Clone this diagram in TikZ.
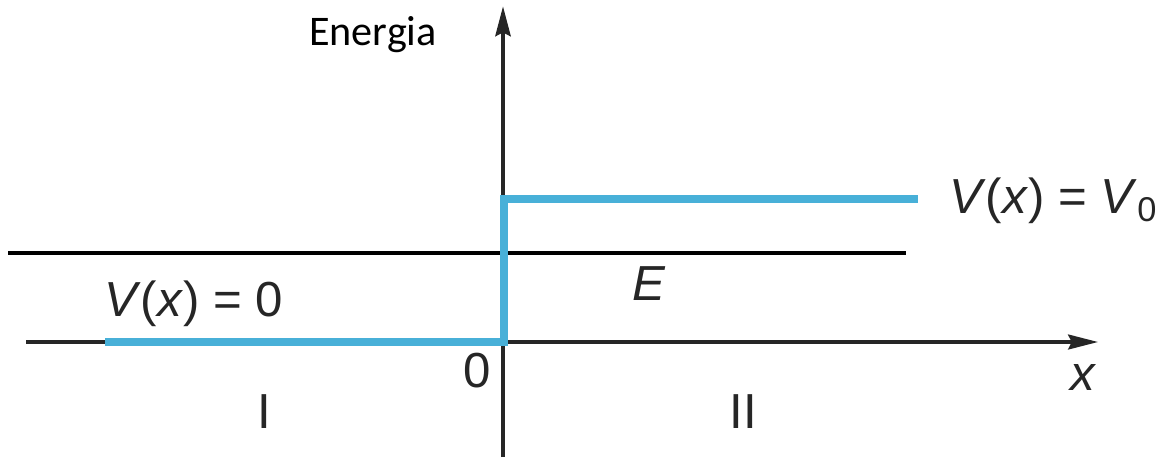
\documentclass[tikz,border=0pt]{standalone}
\usepackage{fontspec}
\setmainfont{Liberation Sans}
\newfontfamily\labelfont{Carlito}
\usepackage{xcolor}
\usetikzlibrary{arrows.meta}

\definecolor{potblue}{RGB}{72,176,216}

\begin{document}
\begin{tikzpicture}[
  x=0.02cm, y=-0.02cm,
  axis/.style={draw=black!85, line width=1.8pt},
  lbl/.style={font=\fontsize{28}{33}\selectfont, text=black!85, inner sep=0pt},
  pot/.style={draw=potblue, line width=4.6pt}
]
\useasboundingbox (0,0) rectangle (1156,457);

% axes
\coordinate (xstart) at (26,342);
\coordinate (xend) at (1098,342);
\coordinate (ystart) at (503,457);
\coordinate (yend) at (503,6);
\draw[axis, -{Stealth[length=17pt, width=8.5pt, inset=2pt]}] (xstart) -- (xend);
\draw[axis, line width=2.8pt, -{Stealth[length=17pt, width=8.5pt, inset=2pt]}] (ystart) -- (yend);

% energy level
\coordinate (estart) at (8,253);
\coordinate (eend) at (906,253);
\draw[black, line width=1.9pt] (estart) -- (eend);

% potential step
\coordinate (pa) at (105,342);
\coordinate (pb) at (504,342);
\coordinate (pc) at (504,199);
\coordinate (pd) at (918,199);
\draw[pot] (pa) -- (pb) -- (pc) -- (pd);

\node[anchor=base, font=\labelfont\fontsize{24}{29}\selectfont, inner sep=0pt] (energia) at (373,45) {Energia};
\node[lbl, anchor=base west] (vzero) at (104,316) {\textit{V}(\textit{x}) = 0};
\node[lbl, anchor=base west] (vnull) at (949,213) {\textit{V}(\textit{x}) = \textit{V}\textsubscript{0}};
\node[lbl, anchor=base] (elabel) at (649,300) {\textit{E}};
\node[lbl, anchor=base] (origin) at (477,387) {0};
\node[lbl, anchor=base] (xlabel) at (1084,390) {\textit{x}};
\node[lbl, anchor=base] (regI) at (264,428) {I};
\node[lbl, anchor=base] (regII) at (743,428) {II};
\end{tikzpicture}
\end{document}
